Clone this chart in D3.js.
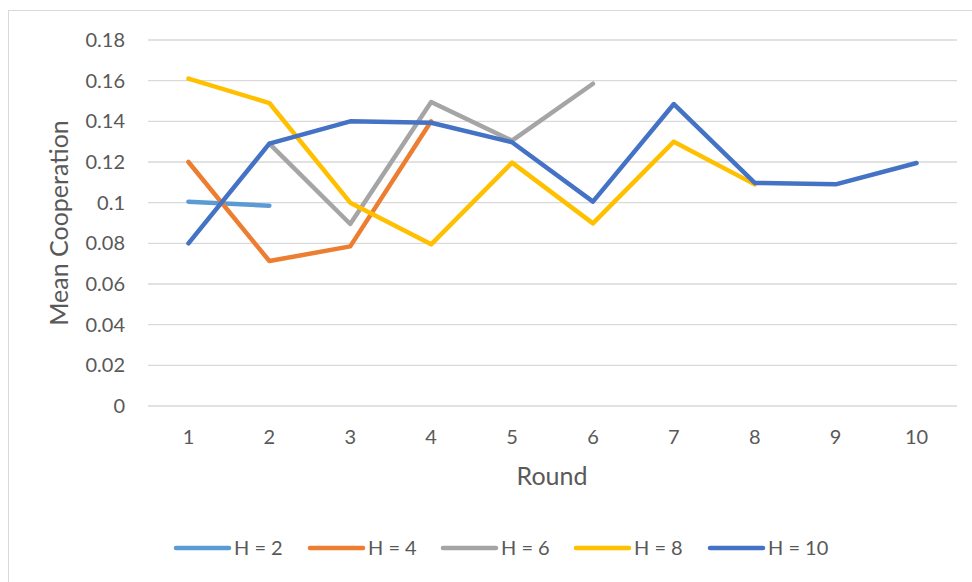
<!DOCTYPE html>
<html>
<head>
<meta charset="utf-8">
<script src="https://cdn.jsdelivr.net/npm/d3@7/dist/d3.min.js"></script>
<style>
  html, body { margin: 0; padding: 0; background: #fff; }
  svg { display: block; }
  text { font-family: Lato, "Open Sans", sans-serif; fill: #595959; }
</style>
</head>
<body>
<svg id="chart" width="972" height="582"></svg>
<script>
// Rounds on the x axis
const rounds = [1, 2, 3, 4, 5, 6, 7, 8, 9, 10];
// Y axis tick values
const yTicks = [0, 0.02, 0.04, 0.06, 0.08, 0.1, 0.12, 0.14, 0.16, 0.18];

// Mean cooperation per round, one array per horizon length
const h2  = [0.1005, 0.0985];
const h4  = [0.120, 0.0713, 0.0785, 0.140];
const h6  = [null, 0.129, 0.0895, 0.1495, 0.1305, 0.1585];
const h8  = [0.161, 0.149, 0.100, 0.0795, 0.1197, 0.0898, 0.130, 0.109];
const h10 = [0.080, 0.129, 0.140, 0.1393, 0.1297, 0.1005, 0.1485, 0.1097, 0.109, 0.1195];

const seriesNames = ["H = 2", "H = 4", "H = 6", "H = 8", "H = 10"];
const seriesValues = [h2, h4, h6, h8, h10];
const seriesColors = ["#5B9BD5", "#ED7D31", "#A5A5A5", "#FFC000", "#4472C4"];

const svg = d3.select("#chart");
const font = "Lato, 'Open Sans', sans-serif";

// Chart frame
svg.append("rect")
  .attr("x", 8.5).attr("y", 10.5)
  .attr("width", 972).attr("height", 600)
  .attr("fill", "none").attr("stroke", "#D9D9D9").attr("stroke-width", 1);

const plot = { left: 148, right: 957, top: 40, bottom: 406 };

const x = d3.scaleBand()
  .domain(rounds)
  .range([plot.left, plot.right]);

const y = d3.scaleLinear()
  .domain([0, 0.18])
  .range([plot.bottom, plot.top]);

// Horizontal gridlines
svg.append("g")
  .selectAll("line")
  .data(yTicks)
  .join("line")
  .attr("x1", plot.left).attr("x2", plot.right)
  .attr("y1", d => y(d)).attr("y2", d => y(d))
  .attr("stroke", "#D9D9D9").attr("stroke-width", 1.3);

// Y axis labels
const yAxis = d3.axisLeft(y).tickValues(yTicks).tickSize(0).tickPadding(0)
  .tickFormat(d => d3.format("")(+d.toFixed(2)));
svg.append("g")
  .attr("transform", `translate(${plot.left - 23},0)`)
  .call(yAxis)
  .call(g => g.select(".domain").remove())
  .call(g => g.selectAll("text").attr("font-size", 20).attr("fill", "#595959")
    .style("font-family", font));

// X axis labels
const xAxis = d3.axisBottom(x).tickSize(0).tickPadding(0);
svg.append("g")
  .attr("transform", `translate(0,${plot.bottom + 24})`)
  .call(xAxis)
  .call(g => g.select(".domain").remove())
  .call(g => g.selectAll("text").attr("font-size", 20).attr("fill", "#595959")
    .style("font-family", font));

// Axis titles
svg.append("text")
  .attr("x", 552).attr("y", 485)
  .attr("text-anchor", "middle").attr("font-size", 25)
  .text("Round");

svg.append("text")
  .attr("transform", `translate(68,${(plot.top + plot.bottom) / 2}) rotate(-90)`)
  .attr("text-anchor", "middle").attr("font-size", 25)
  .text("Mean Cooperation");

// Series lines
const line = d3.line()
  .defined(d => d.v != null)
  .x(d => x(d.r) + x.bandwidth() / 2)
  .y(d => y(d.v));

seriesValues.forEach((vals, i) => {
  const pts = vals.map((v, j) => ({ r: rounds[j], v }));
  svg.append("path")
    .datum(pts)
    .attr("d", line)
    .attr("fill", "none")
    .attr("stroke", seriesColors[i])
    .attr("stroke-width", 4.5)
    .attr("stroke-linejoin", "round")
    .attr("stroke-linecap", "round");
});

// Legend
const legendX = [176, 310, 443, 576, 710];
const legend = svg.append("g");
seriesNames.forEach((name, i) => {
  const g = legend.append("g").attr("transform", `translate(${legendX[i]},548)`);
  g.append("line")
    .attr("x1", 0).attr("x2", 53)
    .attr("stroke", seriesColors[i]).attr("stroke-width", 4.5)
    .attr("stroke-linecap", "round");
  g.append("text")
    .attr("x", 58).attr("y", 7)
    .attr("font-size", 20)
    .text(name);
});
</script>
</body>
</html>
